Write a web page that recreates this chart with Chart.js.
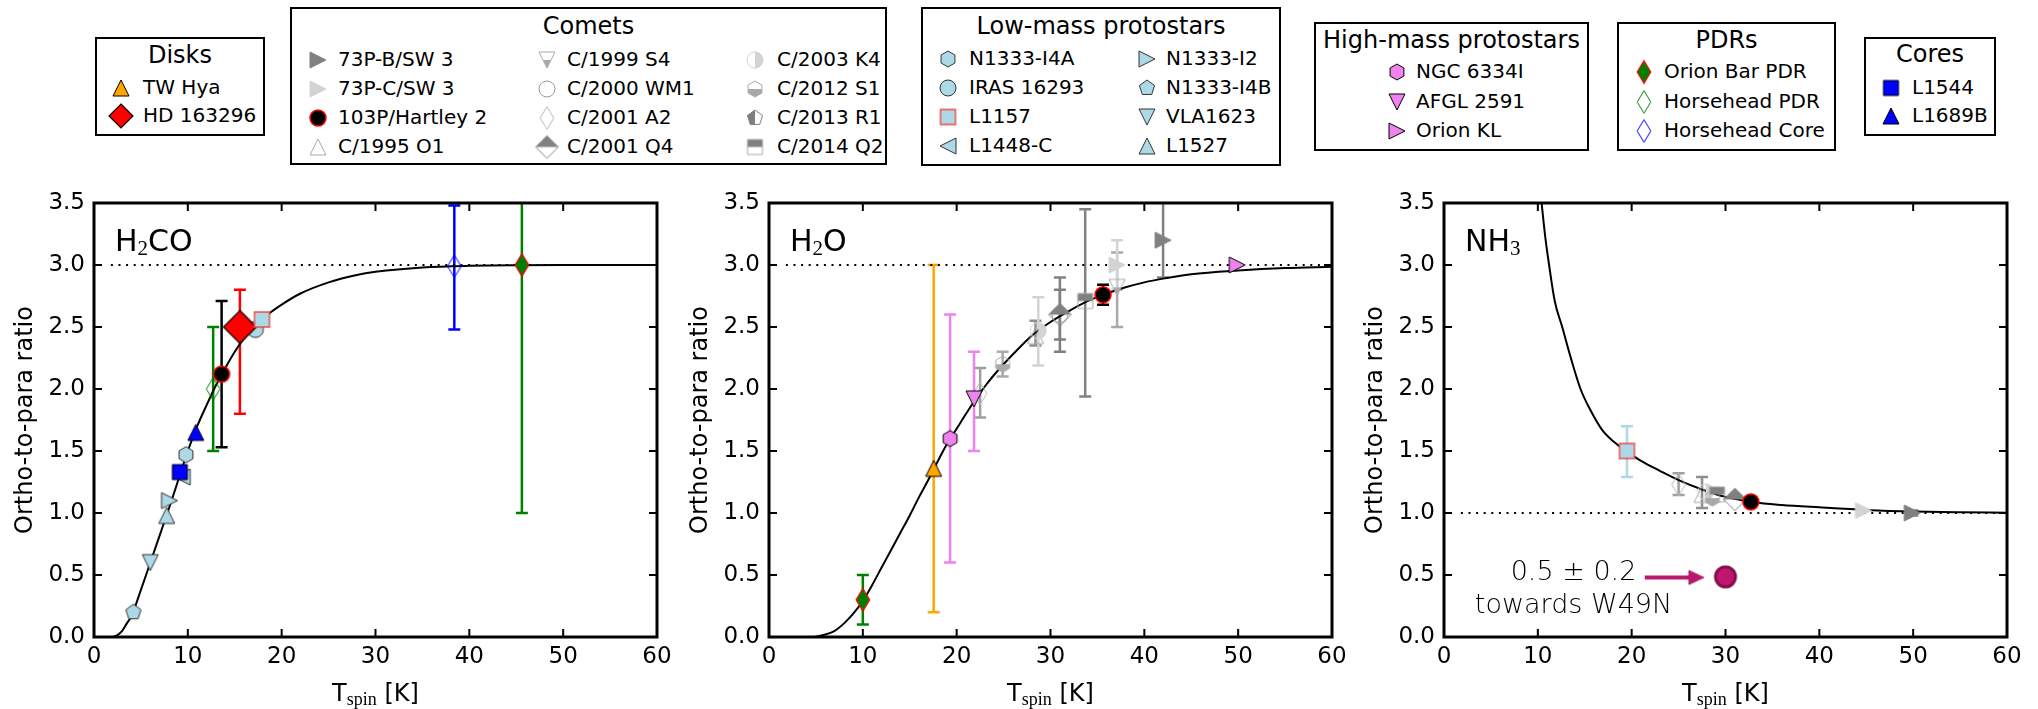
<!DOCTYPE html>
<html>
<head>
<meta charset="utf-8">
<script src="https://cdn.jsdelivr.net/npm/chart.js@4.4.1/dist/chart.umd.min.js"></script>
<style>
  html, body { margin: 0; padding: 0; background: #fff; }
  #fig { position: relative; width: 2038px; height: 709px; overflow: hidden; font-family: "DejaVu Sans", sans-serif; color: #000; }
  .panel { position: absolute; top: 180px; }
  .leg { position: absolute; border: 2px solid #000; background: #fff; box-sizing: border-box; }
  .ttl { position: absolute; font-size: 24px; transform: translate(-50%, -50%); white-space: nowrap; line-height: 1.16; }
  .lbl { position: absolute; font-size: 20px; transform: translateY(-50%); white-space: nowrap; line-height: 1.16; }
  .ico { position: absolute; transform: translate(-50%, -50%); }
</style>
</head>
<body>
<div id="fig">
  <canvas id="h2co" class="panel" width="700" height="529" style="left:0px"></canvas>
  <canvas id="h2o" class="panel" width="700" height="529" style="left:675px"></canvas>
  <canvas id="nh3" class="panel" width="688" height="529" style="left:1350px"></canvas>
</div>
<script>
// ---- H2CO panel ----
const h2coCurveT = [2.06, 2.5, 3, 3.5, 4, 5, 6, 7, 8, 9, 10, 11, 12, 13, 14, 15, 16, 17, 18, 20, 22, 25, 28, 30, 35, 40, 50, 60];
const h2coCurveR = [0, 0.015, 0.05, 0.11, 0.17, 0.38, 0.6, 0.82, 1.04, 1.27, 1.5, 1.7, 1.87, 2.03, 2.17, 2.3, 2.41, 2.5, 2.57, 2.68, 2.77, 2.86, 2.92, 2.945, 2.98, 2.993, 3.0, 3.0];
const h2coSrc = ["N1333-I4B", "VLA1623", "L1527", "N1333-I2", "L1448-C", "L1544", "N1333-I4A", "L1689B",
  "Horsehead PDR", "103P/Hartley 2", "IRAS 16293", "HD 163296", "L1157", "Horsehead Core", "Orion Bar PDR"];
const h2coT  = [4.2, 6.0, 7.75, 8.05, 9.4, 9.15, 9.8, 10.85, 12.7, 13.6, 17.2, 15.55, 17.9, 38.4, 45.6];
const h2coR  = [0.2, 0.6, 0.98, 1.1, 1.29, 1.33, 1.47, 1.65, 2.0, 2.12, 2.48, 2.5, 2.56, 2.99, 3.0];
const h2coLo = [null, null, null, null, null, null, null, null, 1.5, 1.53, null, 1.8, null, 2.48, 1.0];
const h2coHi = [null, null, null, null, null, null, null, null, 2.5, 2.71, null, 2.8, null, 3.48, 4.0];

// ---- H2O panel ----
const h2oCurveT = [4.84, 6, 7, 8, 9, 10, 11, 12, 13, 14, 15, 16, 17, 18, 19, 20, 21, 22, 23, 24, 25, 26, 28, 30, 32, 34, 36, 38, 40, 42, 45, 50, 55, 60];
const h2oCurveR = [0, 0.02, 0.05, 0.11, 0.19, 0.29, 0.42, 0.56, 0.7, 0.84, 0.98, 1.13, 1.27, 1.42, 1.56, 1.68, 1.8, 1.915, 2.02, 2.115, 2.2, 2.28, 2.43, 2.54, 2.63, 2.71, 2.77, 2.82, 2.86, 2.89, 2.925, 2.955, 2.975, 2.985];
const h2oSrc = ["Orion Bar PDR", "TW Hya", "NGC 6334I", "C/2001 A2", "AFGL 2591", "C/2012 S1", "C/1995 O1", "C/2003 K4",
  "C/2000 WM1", "C/2001 Q4", "C/2014 Q2", "103P/Hartley 2", "C/1999 S4", "73P-C/SW 3", "73P-B/SW 3", "Orion KL"];
const h2oT  = [10.0, 17.55, 19.3, 22.5, 21.85, 24.9, 28.4, 28.7, 31.0, 31.0, 33.7, 35.6, 37.1, 37.1, 42.0, 49.9];
const h2oR  = [0.3, 1.36, 1.6, 1.965, 1.92, 2.2, 2.43, 2.47, 2.6, 2.6, 2.71, 2.76, 2.82, 3.0, 3.2, 3.0];
const h2oLo = [0.1, 0.2, 0.6, 1.77, 1.5, 2.1, 2.35, 2.19, 2.4, 2.3, 1.94, 2.68, 2.5, 2.8, 2.9, null];
const h2oHi = [0.5, 3.0, 2.6, 2.17, 2.3, 2.3, 2.55, 2.74, 2.8, 2.9, 3.45, 2.84, 3.1, 3.2, 3.7, null];

// ---- NH3 panel ----
const nh3CurveT = [10.4, 10.8, 11.2, 11.8, 12.6, 13.5, 14.55, 15.6, 16.85, 18, 19.5, 21, 23, 25, 27.5, 30, 33, 36, 40, 45, 50, 55, 60];
const nh3CurveR = [3.5, 3.22, 3.0, 2.71, 2.5, 2.255, 2.0, 1.83, 1.67, 1.58, 1.495, 1.42, 1.34, 1.265, 1.19, 1.13, 1.087, 1.065, 1.046, 1.025, 1.012, 1.006, 1.003];
const nh3Src = ["L1157", "C/2001 A2", "C/1995 O1", "C/2003 K4", "C/2012 S1", "C/2014 Q2", "C/2001 Q4", "103P/Hartley 2", "73P-C/SW 3", "73P-B/SW 3"];
const nh3T  = [19.5, 25.0, 27.5, 27.9, 28.6, 29.1, 31.0, 32.7, 44.7, 49.9];
const nh3R  = [1.5, 1.23, 1.15, 1.17, 1.12, 1.15, 1.11, 1.09, 1.02, 1.0];
const nh3Lo = [1.29, 1.145, 1.04, null, null, null, null, null, null, 0.98];
const nh3Hi = [1.7, 1.32, 1.29, null, null, null, null, null, null, 1.02];

// W49N annotation
const w49nT = [30.0];
const w49nR = [0.485];
const arrowT = [21.4, 26.4];
const arrowR = [0.48, 0.48];
const arrowHeadT = [26.9];

// high-temperature limits (dotted)
const limitT = [1.8, 60];
const h2coLimit = [3, 3];
const h2oLimit = [3, 3];
const nh3Limit = [1, 1];

// ---- marker styles ----
const LB = '#add8e6', VIO = '#ee82ee', GR = '#008000';
const TH = { shape: 'th', w: 13.6, h: 22.6 };
const sty = {
  'TW Hya':         { shape: 'tu', w: 16, fill: '#ffa500', edge: '#000', err: '#ffa500' },
  'HD 163296':      { shape: 'dm', w: 33, legW: 24, fill: '#ff0000', edge: '#000', err: '#ff0000', lw: 1.2 },
  '73P-B/SW 3':     { shape: 'tr', w: 16, fill: '#808080', edge: '#808080', err: '#808080' },
  '73P-C/SW 3':     { shape: 'tr', w: 16, fill: '#d3d3d3', edge: '#d3d3d3', err: '#d3d3d3' },
  '103P/Hartley 2': { shape: 'ci', w: 16, fill: '#000', edge: '#ff0000', err: '#000', lw: 1.5 },
  'C/1995 O1':      { shape: 'tu', w: 16, fill: null, edge: '#a9a9a9', err: '#8f8f8f' },
  'C/1999 S4':      { shape: 'td', w: 16, fill: '#a9a9a9', half: 'bottom', edge: '#a9a9a9', err: '#a9a9a9' },
  'C/2000 WM1':     { shape: 'ci', w: 16, fill: null, edge: '#999', err: '#808080' },
  'C/2001 A2':      { ...TH, fill: null, edge: '#b8b8b8', err: '#a0a0a0' },
  'C/2001 Q4':      { shape: 'dm', w: 22.6, fill: '#808080', half: 'top', edge: '#808080', err: '#808080' },
  'C/2003 K4':      { shape: 'ci', w: 16, fill: '#d3d3d3', half: 'right', edge: '#d3d3d3', err: '#d3d3d3' },
  'C/2012 S1':      { shape: 'hx', w: 16, fill: '#a9a9a9', half: 'bottom', edge: '#a9a9a9', err: '#a9a9a9' },
  'C/2013 R1':      { shape: 'pg', w: 16, fill: '#808080', half: 'left', edge: '#808080', err: '#808080' },
  'C/2014 Q2':      { shape: 'sq', w: 15, fill: '#808080', half: 'top', edge: '#a9a9a9', err: '#808080' },
  'N1333-I4A':      { shape: 'hx', w: 16, fill: LB, edge: '#333', err: LB },
  'IRAS 16293':     { shape: 'ci', w: 16, fill: LB, edge: '#333', err: LB },
  'L1157':          { shape: 'sq', w: 15, fill: LB, edge: '#f04848', err: LB, lw: 1.4 },
  'L1448-C':        { shape: 'tl', w: 16, fill: LB, edge: '#333', err: LB },
  'N1333-I2':       { shape: 'tr', w: 16, fill: LB, edge: '#333', err: LB },
  'N1333-I4B':      { shape: 'pg', w: 16, fill: LB, edge: '#333', err: LB },
  'VLA1623':        { shape: 'td', w: 16, fill: LB, edge: '#333', err: LB },
  'L1527':          { shape: 'tu', w: 16, fill: LB, edge: '#333', err: LB },
  'NGC 6334I':      { shape: 'hx', w: 16, fill: VIO, edge: '#000', err: VIO },
  'AFGL 2591':      { shape: 'td', w: 16, fill: VIO, edge: '#000', err: VIO },
  'Orion KL':       { shape: 'tr', w: 16, fill: VIO, edge: '#000', err: VIO },
  'Orion Bar PDR':  { ...TH, fill: GR, edge: '#ff0000', err: GR, lw: 1.2 },
  'Horsehead PDR':  { ...TH, fill: null, edge: GR, err: GR },
  'Horsehead Core': { ...TH, fill: null, edge: '#0000ff', err: '#0000ff' },
  'L1544':          { shape: 'sq', w: 15, fill: '#0000ff', edge: '#000', err: '#0000ff' },
  'L1689B':         { shape: 'tu', w: 16, fill: '#0000ff', edge: '#000', err: '#0000ff' },
  'W49N':           { shape: 'ci', w: 20, fill: '#c0166f', edge: '#860e4c', lw: 3 },
  'arrow':          { shape: 'tr', w: 15, h: 14, fill: '#b8196c', edge: '#b8196c' },
};

const legends = [
  { title: 'Disks', box: [95, 37, 265, 136], ty: 56, rows: [87.5, 116], cols: [[120.5, 143]],
    items: ['TW Hya', 'HD 163296'] },
  { title: 'Comets', box: [290, 7, 887, 165], ty: 26.5, rows: [60, 89, 118, 146.5], cols: [[317.5, 338], [547, 567], [755, 777]],
    items: ['73P-B/SW 3', '73P-C/SW 3', '103P/Hartley 2', 'C/1995 O1', 'C/1999 S4', 'C/2000 WM1', 'C/2001 A2', 'C/2001 Q4',
            'C/2003 K4', 'C/2012 S1', 'C/2013 R1', 'C/2014 Q2'] },
  { title: 'Low-mass protostars', box: [921, 7, 1281, 166], ty: 26.5, rows: [59, 88, 117, 146], cols: [[948, 969], [1147, 1166]],
    items: ['N1333-I4A', 'IRAS 16293', 'L1157', 'L1448-C', 'N1333-I2', 'N1333-I4B', 'VLA1623', 'L1527'] },
  { title: 'High-mass protostars', box: [1314, 22, 1589, 151], ty: 41, rows: [72, 101.5, 130.5], cols: [[1397, 1416]],
    items: ['NGC 6334I', 'AFGL 2591', 'Orion KL'] },
  { title: 'PDRs', box: [1617, 22, 1836, 151], ty: 41, rows: [72, 101.5, 130.5], cols: [[1644, 1664]],
    items: ['Orion Bar PDR', 'Horsehead PDR', 'Horsehead Core'] },
  { title: 'Cores', box: [1864, 37, 1996, 136], ty: 55, rows: [87.5, 116], cols: [[1891, 1912]],
    items: ['L1544', 'L1689B'] },
];

const FONT = '"DejaVu Sans", sans-serif';
const SERIF = '"Liberation Serif", "DejaVu Serif", serif';

// ---- marker drawing ----
function shapePath(g, shape, rx, ry) {
  const poly = pts => { g.moveTo(pts[0][0], pts[0][1]); pts.slice(1).forEach(p => g.lineTo(p[0], p[1])); };
  g.beginPath();
  if (shape === 'ci') g.ellipse(0, 0, rx, ry, 0, 0, Math.PI * 2);
  else if (shape === 'sq') g.rect(-rx, -ry, 2 * rx, 2 * ry);
  else if (shape === 'dm' || shape === 'th') poly([[0, -ry], [rx, 0], [0, ry], [-rx, 0]]);
  else if (shape === 'tu') poly([[0, -ry], [rx, ry], [-rx, ry]]);
  else if (shape === 'td') poly([[0, ry], [rx, -ry], [-rx, -ry]]);
  else if (shape === 'tl') poly([[-rx, 0], [rx, -ry], [rx, ry]]);
  else if (shape === 'tr') poly([[rx, 0], [-rx, -ry], [-rx, ry]]);
  else if (shape === 'hx' || shape === 'pg') {
    const n = shape === 'hx' ? 6 : 5;
    const pts = [];
    for (let k = 0; k < n; k++) {
      const a = -Math.PI / 2 + k * 2 * Math.PI / n;
      pts.push([ry * Math.cos(a), ry * Math.sin(a)]);
    }
    poly(pts);
  }
  g.closePath();
}

function makeMarker(st, legend) {
  const w = (legend && st.legW) || st.w;
  const h = (legend && st.legW) || st.h || st.w;
  const c = document.createElement('canvas');
  c.width = Math.ceil(w + 6);
  c.height = Math.ceil(h + 6);
  const g = c.getContext('2d');
  g.translate(c.width / 2, c.height / 2);
  if (st.fill) {
    g.save();
    if (st.half) {
      g.beginPath();
      const W = c.width, H = c.height;
      if (st.half === 'top') g.rect(-W, -H, 2 * W, H);
      if (st.half === 'bottom') g.rect(-W, 0, 2 * W, H);
      if (st.half === 'left') g.rect(-W, -H, W, 2 * H);
      if (st.half === 'right') g.rect(0, -H, W, 2 * H);
      g.clip();
    }
    shapePath(g, st.shape, w / 2, h / 2);
    g.fillStyle = st.fill;
    g.fill();
    g.restore();
  }
  shapePath(g, st.shape, w / 2, h / 2);
  g.lineWidth = st.lw || 1;
  g.strokeStyle = st.edge;
  g.stroke();
  return c;
}

// ---- plugins ----
const errBarPlugin = {
  id: 'errbars',
  beforeDatasetsDraw(chart, args, opts) {
    const { ctx, chartArea: a, scales: { x, y } } = chart;
    ctx.save();
    ctx.beginPath();
    ctx.rect(a.left, a.top, a.width, a.height);
    ctx.clip();
    ctx.lineWidth = 2.5;
    for (const b of opts.items) {
      const px = x.getPixelForValue(b.t);
      const y1 = y.getPixelForValue(b.lo), y2 = y.getPixelForValue(b.hi);
      ctx.strokeStyle = b.color;
      ctx.beginPath();
      ctx.moveTo(px, y1); ctx.lineTo(px, y2);
      ctx.moveTo(px - 6, y1); ctx.lineTo(px + 6, y1);
      ctx.moveTo(px - 6, y2); ctx.lineTo(px + 6, y2);
      ctx.stroke();
    }
    ctx.restore();
  }
};

function richText(ctx, parts, x, y, align) {
  let w = 0;
  for (const p of parts) { ctx.font = p.f; w += ctx.measureText(p.t).width; }
  let cx = align === 'center' ? x - w / 2 : x;
  ctx.textAlign = 'left';
  ctx.textBaseline = 'alphabetic';
  for (const p of parts) {
    ctx.font = p.f;
    ctx.fillText(p.t, cx, y + (p.dy || 0));
    cx += ctx.measureText(p.t).width;
  }
}

const xTitle = [
  { t: 'T', f: '24px ' + FONT },
  { t: 'spin', f: '18px ' + SERIF, dy: 4 },
  { t: ' [K]', f: '24px ' + FONT },
];

const framePlugin = {
  id: 'frame',
  afterDraw(chart, args, opts) {
    const { ctx, chartArea: a, scales: { x, y } } = chart;
    ctx.save();
    ctx.strokeStyle = '#000';
    ctx.fillStyle = '#000';
    ctx.lineWidth = 2;
    ctx.beginPath();
    for (const t of x.ticks) {
      const p = x.getPixelForValue(t.value);
      ctx.moveTo(p, a.bottom); ctx.lineTo(p, a.bottom - 8);
      ctx.moveTo(p, a.top); ctx.lineTo(p, a.top + 8);
    }
    for (const t of y.ticks) {
      const p = y.getPixelForValue(t.value);
      ctx.moveTo(a.left, p); ctx.lineTo(a.left + 8, p);
      ctx.moveTo(a.right, p); ctx.lineTo(a.right - 8, p);
    }
    ctx.stroke();
    ctx.lineWidth = 3;
    ctx.strokeRect(a.left, a.top, a.width, a.height);
    richText(ctx, opts.label, a.left + 21, a.top + 48, 'left');
    richText(ctx, xTitle, (a.left + a.right) / 2, a.bottom + 64, 'center');
    for (const n of opts.notes || []) {
      ctx.font = n.f;
      ctx.fillStyle = n.c;
      ctx.textAlign = 'center';
      ctx.fillText(n.text, x.getPixelForValue(n.t), y.getPixelForValue(n.v));
    }
    ctx.restore();
  }
};

// ---- chart builders ----
const xy = (T, R) => T.map((t, i) => ({ x: t, y: R[i] }));

function lineSet(T, R, extra) {
  return Object.assign({ data: xy(T, R), showLine: true, borderColor: '#000', borderWidth: 2,
    pointRadius: 0, pointHoverRadius: 0, fill: false }, extra);
}

function pointSets(names, T, R) {
  return names.map((n, i) => ({
    data: [{ x: T[i], y: R[i] }],
    pointStyle: makeMarker(sty[n]),
    pointRadius: 6, pointHoverRadius: 6,
    order: names.length - i + 1,
  }));
}

function errItems(names, T, lo, hi) {
  return names.map((n, i) => lo[i] == null ? null : { t: T[i], lo: lo[i], hi: hi[i], color: sty[n].err })
    .filter(Boolean);
}

function makeChart(id, padRight, datasets, errs, label, notes) {
  return new Chart(document.getElementById(id), {
    type: 'scatter',
    data: { datasets },
    options: {
      responsive: false,
      animation: false,
      devicePixelRatio: 1,
      layout: { padding: { left: 0, top: 23, right: padRight, bottom: 0 } },
      scales: {
        x: {
          type: 'linear', min: 0, max: 60,
          afterFit: s => { s.height = 72; },
          grid: { display: false, drawTicks: false },
          border: { display: false },
          ticks: { stepSize: 10, padding: 6, color: '#000', autoSkip: false, maxRotation: 0,
                   font: { family: FONT, size: 23 } },
        },
        y: {
          type: 'linear', min: 0, max: 3.5,
          afterFit: s => { s.width = 94; },
          grid: { display: false, drawTicks: false },
          border: { display: false },
          ticks: { stepSize: 0.5, padding: 9, color: '#000', font: { family: FONT, size: 23 },
                   callback: v => v.toFixed(1) },
          title: { display: true, text: 'Ortho-to-para ratio', color: '#000',
                   font: { family: FONT, size: 24 }, padding: { top: 11, bottom: 0 } },
        },
      },
      plugins: {
        legend: { display: false },
        tooltip: { enabled: false },
        errbars: { items: errs },
        frame: { label, notes },
      },
    },
    plugins: [errBarPlugin, framePlugin],
  });
}

const big = '30px ' + FONT, sub = '21px ' + SERIF;
const noteFont = '200 27px "DejaVu Sans", sans-serif';

makeChart('h2co', 43, [
  lineSet(h2coCurveT, h2coCurveR, { cubicInterpolationMode: 'monotone', order: 1000 }),
  lineSet(limitT, h2coLimit, { borderDash: [2, 5.6], order: 999 }),
  ...pointSets(h2coSrc, h2coT, h2coR),
], errItems(h2coSrc, h2coT, h2coLo, h2coHi),
  [{ t: 'H', f: big }, { t: '2', f: sub, dy: 4 }, { t: 'CO', f: big }]);

makeChart('h2o', 43, [
  lineSet(h2oCurveT, h2oCurveR, { cubicInterpolationMode: 'monotone', order: 1000 }),
  lineSet(limitT, h2oLimit, { borderDash: [2, 5.6], order: 999 }),
  ...pointSets(h2oSrc, h2oT, h2oR),
], errItems(h2oSrc, h2oT, h2oLo, h2oHi),
  [{ t: 'H', f: big }, { t: '2', f: sub, dy: 4 }, { t: 'O', f: big }]);

makeChart('nh3', 31, [
  lineSet(nh3CurveT, nh3CurveR, { cubicInterpolationMode: 'monotone', order: 1000 }),
  lineSet(limitT, nh3Limit, { borderDash: [2, 5.6], order: 999 }),
  ...pointSets(nh3Src, nh3T, nh3R),
  lineSet(arrowT, arrowR, { borderColor: '#b8196c', borderWidth: 4, order: 1 }),
  { data: xy(arrowHeadT, arrowR), pointStyle: makeMarker(sty['arrow']), pointRadius: 6, order: 1 },
  { data: xy(w49nT, w49nR), pointStyle: makeMarker(sty['W49N']), pointRadius: 6, order: 0 },
], errItems(nh3Src, nh3T, nh3Lo, nh3Hi),
  [{ t: 'NH', f: big }, { t: '3', f: sub, dy: 4 }],
  [{ t: 13.8, v: 0.461, text: '0.5 \u00b1 0.2', f: noteFont, c: '#000' },
   { t: 13.8, v: 0.194, text: 'towards W49N', f: noteFont, c: '#000' }]);

// ---- legend boxes ----
const fig = document.getElementById('fig');
function add(tag, cls, css) {
  const e = document.createElement(tag);
  if (cls) e.className = cls;
  Object.assign(e.style, css);
  fig.appendChild(e);
  return e;
}
for (const g of legends) {
  const [x0, y0, x1, y1] = g.box;
  add('div', 'leg', { left: x0 + 'px', top: y0 + 'px', width: (x1 - x0) + 'px', height: (y1 - y0) + 'px' });
  const t = add('div', 'ttl', { left: (x0 + x1) / 2 + 'px', top: g.ty + 'px' });
  t.textContent = g.title;
  g.items.forEach((n, k) => {
    const col = Math.floor(k / g.rows.length), row = k % g.rows.length;
    const [mx, tx] = g.cols[col];
    const ic = makeMarker(sty[n], true);
    ic.className = 'ico';
    Object.assign(ic.style, { left: mx + 'px', top: g.rows[row] + 'px' });
    fig.appendChild(ic);
    const s = add('span', 'lbl', { left: tx + 'px', top: g.rows[row] + 'px' });
    s.textContent = n;
  });
}
</script>
</body>
</html>
